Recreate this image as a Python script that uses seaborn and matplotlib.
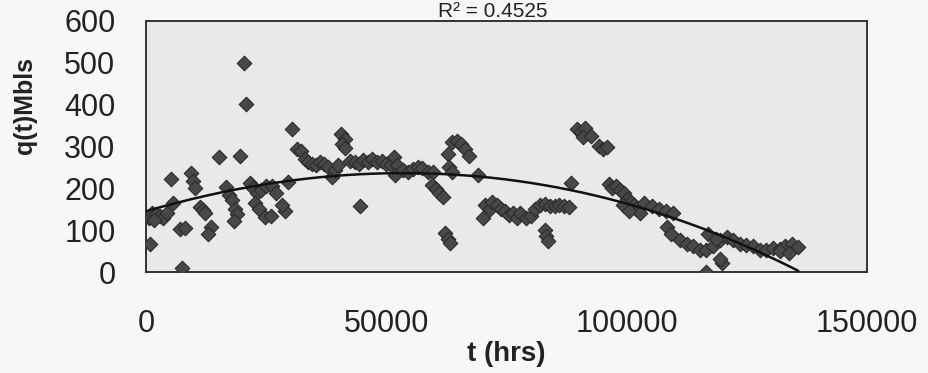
import numpy as np
import pandas as pd
import matplotlib
matplotlib.use("Agg")
import matplotlib.pyplot as plt
import seaborn as sns

# production rate vs time
t_hrs = [800, 7400, 20400, 20800, 15200, 19500, 5100, 9400, 9800, 10200,
         5700, 600, 1200, 2000, 2900, 3600, 4300, 1600, 7100, 8100,
         11200, 11900, 12300, 13600, 12900, 16600, 17300, 17900, 18500, 18900,
         18400, 21600, 22300, 23000, 22700, 23600, 24700, 24000, 25000,
         26200, 27000, 26000, 28900, 28200, 29600, 30400, 31500, 32300, 33000,
         33800, 34500, 35300, 36200, 37000, 37800, 38600, 39300, 40000, 40500,
         41300, 40800, 41500, 42500, 43500, 44300, 45200, 46200, 47000, 48000,
         49000, 50000, 51000, 44500,
         51600, 52200, 51800, 53500, 54500, 55500, 56500, 57500, 58600, 59700,
         63600, 64600, 65500, 66400, 67300, 62800, 63000, 63700, 69100, 59500,
         60300, 61000, 61800, 62200, 62800, 63200, 70500, 70200, 71500, 72000,
         73000, 73800, 74600, 75600, 76400, 77100,
         77800, 79000, 80000, 81000, 82000, 83000, 84000, 85000, 86000, 87000,
         88000, 83000, 83300, 83600, 88400, 89700, 90500, 91300, 90900, 92600,
         94200, 95100, 96000, 96300, 97000, 97800, 98600, 99500, 100000, 100800,
         101500, 102000, 102800, 99300, 100500,
         103700, 105200, 106700, 108200, 109600, 108300, 109200, 111100, 112500,
         113900, 115300, 116600, 118000, 119400, 120800, 122100, 123500, 124900,
         126300, 127700, 129000, 117000, 118500, 119800, 116600, 119500,
         130500, 131800, 133000, 134500, 135600, 132000, 133800]
q_mbls = [68, 9, 500, 401, 274, 277, 222, 236, 218, 200,
          164, 130, 142, 138, 135, 128, 140, 125, 103, 104,
          155, 148, 140, 108, 92, 204, 185, 172, 150, 138,
          122, 212, 200, 189, 165, 150, 131, 195, 205,
          205, 190, 133, 145, 160, 216, 343, 295, 290, 270,
          262, 258, 255, 262, 258, 250, 228, 245, 255, 330,
          318, 305, 296, 265, 262, 258, 268, 262, 270, 262,
          266, 258, 255, 158,
          275, 255, 232, 245, 238, 246, 250, 248, 240, 238,
          310, 312, 305, 295, 278, 282, 252, 240, 232, 208,
          198, 190, 180, 93, 80, 70, 160, 130, 150, 168,
          160, 150, 145, 137, 140, 130,
          140, 128, 135, 150, 160, 163, 158, 157, 160, 158,
          155, 100, 85, 75, 212, 342, 335, 345, 322, 325,
          302, 295, 300, 210, 200, 205, 195, 188, 175, 168,
          160, 150, 140, 160, 145,
          165, 158, 150, 145, 140, 108, 92, 76, 68,
          61, 53, 53, 61, 76, 84, 76, 68, 64,
          61, 53, 53, 90, 78, 21, 1, 30,
          58, 55, 62, 68, 60, 50, 45]

# the printed polynomial trendline, read at a few points along the curve
trend_t = [100, 5700, 15400, 25100, 29600, 38600, 51800, 59800, 68800,
           77800, 88600, 96200, 109700, 120100, 130500, 135700]
trend_q = [144, 168, 188, 208, 216, 229, 236, 236, 232,
           216, 200, 172, 124, 84, 37, 1]

title_text = "R² = 0.4525"
x_label = "t (hrs)"
y_label = "q(t)Mbls"
x_ticks = [0, 50000, 100000, 150000]
y_ticks = [0, 100, 200, 300, 400, 500, 600]

df = pd.DataFrame({"t": t_hrs, "q": q_mbls})

sns.set_style("white")
plt.rcParams["font.family"] = ["Liberation Sans", "DejaVu Sans"]

fig = plt.figure(figsize=(9.29, 3.73), dpi=100, facecolor="#f7f7f7")
ax = fig.add_axes([146 / 929, 1 - 272 / 373, 721 / 929, 251 / 373])
ax.set_facecolor("#e9e9e9")

sns.scatterplot(data=df, x="t", y="q", marker="D", s=55, color="#484848",
                edgecolor="#2b2b2b", linewidth=0.8, ax=ax, zorder=3)

# order-3 trendline through the curve as printed
coef = np.polyfit(np.array(trend_t) / 1e5, trend_q, 3)
tt = np.linspace(trend_t[0], trend_t[-1], 300)
ax.plot(tt, np.polyval(coef, tt / 1e5), color="#111111", lw=1.8, zorder=4)

ax.set_xlim(0, 150000)
ax.set_ylim(0, 600)
ax.set_xticks(x_ticks)
ax.set_yticks(y_ticks)
ax.set_xticklabels([str(v) for v in x_ticks])
ax.set_yticklabels([str(v) for v in y_ticks])
ax.tick_params(axis="both", labelsize=22, direction="out", length=4,
               width=1, color="#555555", labelcolor="#222222")
ax.tick_params(axis="x", pad=23)
ax.tick_params(axis="y", pad=18)
for sp in ax.spines.values():
    sp.set_color("#333333")
    sp.set_linewidth(1.4)

ax.set_xlabel(x_label, fontsize=20, fontweight="bold", color="#222222", labelpad=1)
ax.set_ylabel("")
fig.text(25 / 929, 1 - 105 / 373, y_label, rotation=90, fontsize=18,
         fontweight="bold", color="#222222", ha="center", va="center")
fig.text(493 / 929, 1 - 17 / 373, title_text, fontsize=15, color="#222222",
         ha="center", va="baseline")

fig.savefig("out.png", dpi=100, facecolor=fig.get_facecolor())
